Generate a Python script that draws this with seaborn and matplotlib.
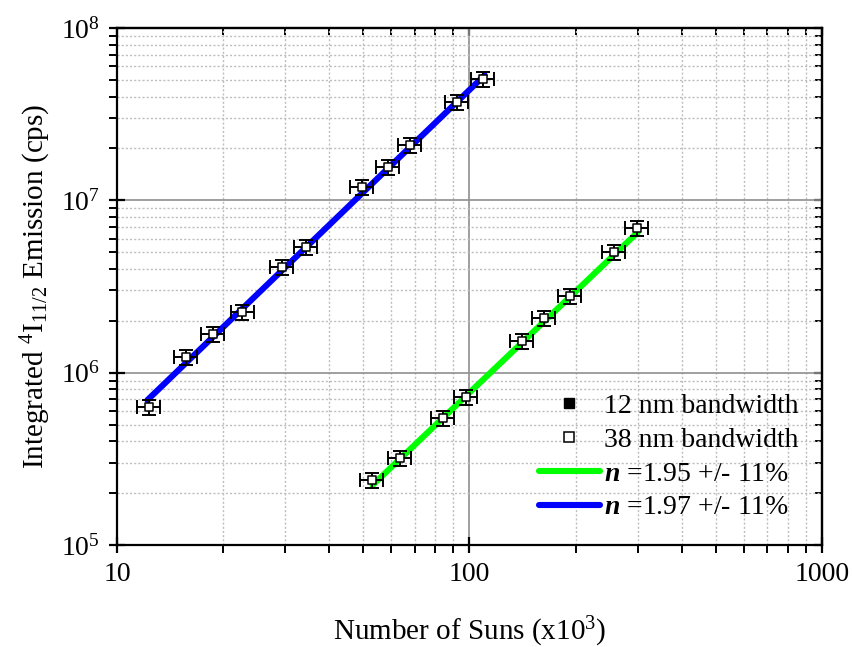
import numpy as np
import pandas as pd
import matplotlib
matplotlib.use("Agg")
import matplotlib.pyplot as plt
import seaborn as sns
from matplotlib.lines import Line2D
from matplotlib.ticker import LogLocator, NullFormatter

# Measured points (suns in units of 10^3, integrated emission in cps)
suns_low = [12.3, 15.7, 18.7, 22.7, 29.3, 34.3, 49.4, 58.6, 67.6, 91.9, 109.0]
emission_low = [6.3e5, 1.23e6, 1.68e6, 2.25e6, 4.10e6, 5.36e6, 1.19e7, 1.56e7,
                2.09e7, 3.72e7, 5.06e7]
suns_high = [52.8, 63.4, 83.9, 97.5, 140.7, 162.4, 192.5, 256.5, 298.3]
emission_high = [2.38e5, 3.19e5, 5.45e5, 7.21e5, 1.53e6, 2.07e6, 2.78e6, 5.01e6, 6.91e6]

# Relative uncertainties on both axes
x_err_frac = 0.075
y_err_frac = 0.10

# Power-law fits  I = A * S^n
fit_n = [1.95, 1.97]
fit_prefactor = [96.4, 5024.0]
fit_start = [53.1, 12.2]
fit_end = [300.3, 110.4]
fit_labels = [r"$\mathbfit{n}$ =1.95 +/- 11%", r"$\mathbfit{n}$ =1.97 +/- 11%"]
fit_colors = ["#00ff00", "#0000ff"]

sns.set_theme(style="white")
plt.rcParams["font.family"] = ["Liberation Serif", "DejaVu Serif"]
plt.rcParams["mathtext.fontset"] = "custom"
plt.rcParams["mathtext.rm"] = "Liberation Serif"
plt.rcParams["mathtext.it"] = "Liberation Serif:italic"
plt.rcParams["mathtext.bf"] = "Liberation Serif:bold"
plt.rcParams["mathtext.bfit"] = "Liberation Serif:italic:bold"
plt.rcParams["text.color"] = "black"
plt.rcParams["axes.labelcolor"] = "black"
plt.rcParams["xtick.color"] = "black"
plt.rcParams["ytick.color"] = "black"

fig = plt.figure(figsize=(8.53, 6.47), dpi=100)
ax = fig.add_axes([117 / 853, 1 - 545 / 647, (822 - 117) / 853, (545 - 28) / 647])
ax.set_xscale("log")
ax.set_yscale("log")
ax.set_xlim(10, 1000)
ax.set_ylim(1e5, 1e8)

# grid: solid majors, dotted minors
ax.set_axisbelow(True)
ax.xaxis.set_minor_locator(LogLocator(base=10, subs=np.arange(2, 10)))
ax.yaxis.set_minor_locator(LogLocator(base=10, subs=np.arange(2, 10)))
ax.xaxis.set_minor_formatter(NullFormatter())
ax.yaxis.set_minor_formatter(NullFormatter())
ax.grid(which="minor", color="#bdbdbd", linestyle=(0, (1.5, 1.5)), linewidth=1.0)
ax.grid(which="major", color="#8f8f8f", linestyle="-", linewidth=1.2)

# fitted power laws
for n, a, s0, s1, lab, col in zip(fit_n, fit_prefactor, fit_start, fit_end, fit_labels, fit_colors):
    s = np.geomspace(s0, s1, 50)
    df = pd.DataFrame({"suns": s, "emission": a * s ** n})
    sns.lineplot(data=df, x="suns", y="emission", color=col, linewidth=4.4,
                 ax=ax, zorder=3, legend=False)

# data with error bars
for sx, sy in [(suns_low, emission_low), (suns_high, emission_high)]:
    sx = np.asarray(sx)
    sy = np.asarray(sy)
    ax.errorbar(sx, sy, xerr=x_err_frac * sx, yerr=y_err_frac * sy, fmt="none",
                ecolor="black", elinewidth=1.4, capsize=5, capthick=1.4, zorder=4)
    sns.scatterplot(x=sx, y=sy, marker="s", s=30, facecolor="white",
                    edgecolor="black", linewidth=1.1, ax=ax, zorder=5, legend=False)

# spines and ticks
for sp in ax.spines.values():
    sp.set_linewidth(1.6)
    sp.set_color("black")
ax.tick_params(which="major", direction="inout", length=12, width=1.6,
               labelsize=20, colors="black", pad=6)
ax.tick_params(which="minor", direction="out", length=6, width=1.4, colors="black")
ax.tick_params(top=False, right=False, bottom=True, left=True, which="both")
ax.set_xticks([10, 100, 1000])
ax.set_xticklabels(["10", "100", "1000"])

sec_x = ax.secondary_xaxis("top")
sec_y = ax.secondary_yaxis("right")
for sec in (sec_x, sec_y):
    sec.tick_params(which="major", direction="in", length=6, width=1.6, labelsize=0)
    sec.tick_params(which="minor", direction="in", length=5, width=1.4)
sec_x.set_xticks([10, 100, 1000])
sec_x.xaxis.set_minor_locator(LogLocator(base=10, subs=np.arange(2, 10)))
sec_y.yaxis.set_minor_locator(LogLocator(base=10, subs=np.arange(2, 10)))
sec_x.set_xticklabels([])
sec_y.set_yticklabels([])
sec_x.xaxis.set_minor_formatter(NullFormatter())
sec_y.yaxis.set_minor_formatter(NullFormatter())
for sec in (sec_x, sec_y):
    for sp in sec.spines.values():
        sp.set_linewidth(1.6)

ax.set_xlabel(r"Number of Suns (x10$^{3}$)", fontsize=21, labelpad=20)
ax.set_ylabel(r"Integrated $^{4}$I$_{11/2}$ Emission (cps)", fontsize=21, labelpad=6)

handles = [
    Line2D([], [], marker="s", linestyle="none", markersize=7, markerfacecolor="black",
           markeredgecolor="black"),
    Line2D([], [], marker="s", linestyle="none", markersize=7, markerfacecolor="white",
           markeredgecolor="black", markeredgewidth=1.1),
    Line2D([], [], color=fit_colors[0], linewidth=4.4),
    Line2D([], [], color=fit_colors[1], linewidth=4.4),
]
labels = ["12 nm bandwidth", "38 nm bandwidth"] + fit_labels
ax.legend(handles, labels, loc="lower right", bbox_to_anchor=(0.994, 0.01),
          frameon=False, fontsize=20, handlelength=2.2, handletextpad=0.15,
          labelspacing=0.3, borderaxespad=0.3)

fig.savefig("out.png", dpi=100)
